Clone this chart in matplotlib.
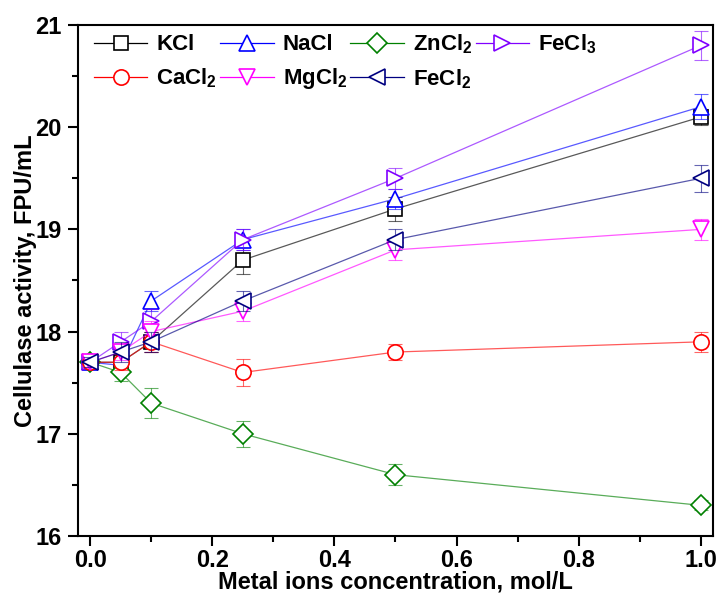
import matplotlib
matplotlib.use("Agg")
import matplotlib.pyplot as plt

plt.rcParams["font.family"] = ["Liberation Sans", "DejaVu Sans"]
plt.rcParams["font.weight"] = "bold"
plt.rcParams["mathtext.fontset"] = "custom"
plt.rcParams["mathtext.rm"] = "Liberation Sans:bold"
plt.rcParams["mathtext.bf"] = "Liberation Sans:bold"

conc = [0.0, 0.05, 0.1, 0.25, 0.5, 1.0]

kcl = [17.7, 17.7, 17.9, 18.7, 19.2, 20.1]
nacl = [17.7, 17.67, 18.3, 18.9, 19.3, 20.2]
zncl2 = [17.7, 17.6, 17.3, 17.0, 16.6, 16.3]
fecl3 = [17.7, 17.9, 18.1, 18.9, 19.5, 20.8]
cacl2 = [17.7, 17.7, 17.9, 17.6, 17.8, 17.9]
mgcl2 = [17.7, 17.8, 18.0, 18.2, 18.8, 19.0]
fecl2 = [17.7, 17.8, 17.9, 18.3, 18.9, 19.5]

kcl_err = [0.05, 0.08, 0.1, 0.14, 0.12, 0.08]
nacl_err = [0.05, 0.08, 0.1, 0.1, 0.1, 0.12]
zncl2_err = [0.05, 0.08, 0.15, 0.13, 0.1, 0.05]
fecl3_err = [0.05, 0.1, 0.12, 0.1, 0.1, 0.14]
cacl2_err = [0.05, 0.08, 0.1, 0.13, 0.08, 0.1]
mgcl2_err = [0.05, 0.08, 0.1, 0.1, 0.1, 0.1]
fecl2_err = [0.05, 0.1, 0.1, 0.1, 0.1, 0.13]

series = [
    ("KCl", kcl, kcl_err, "#000000", "s"),
    ("NaCl", nacl, nacl_err, "#0000ff", "^"),
    ("ZnCl$_2$", zncl2, zncl2_err, "#008000", "D"),
    ("FeCl$_3$", fecl3, fecl3_err, "#8000ff", ">"),
    ("CaCl$_2$", cacl2, cacl2_err, "#ff0000", "o"),
    ("MgCl$_2$", mgcl2, mgcl2_err, "#ff00ff", "v"),
    ("FeCl$_2$", fecl2, fecl2_err, "#000080", "<"),
]
# legend fills column by column, so reorder to read row by row
legend_order = [0, 4, 1, 5, 2, 6, 3]

fig = plt.figure(figsize=(7.19, 5.96), dpi=100)
ax = fig.add_axes([78 / 719, 60 / 596, 635 / 719, 511 / 596])

sizes = {"s": 10, "^": 12, "D": 10, ">": 12, "o": 11, "v": 12, "<": 12}
handles = []
for name, vals, err, color, marker in series:
    ax.errorbar(conc, vals, yerr=err, fmt="none", ecolor=color, elinewidth=0.8,
                capsize=5, capthick=0.8, alpha=0.6)
    ax.plot(conc, vals, color=color, lw=0.9, alpha=0.65)
    ax.plot(conc, vals, ls="none", marker=marker, ms=sizes[marker],
            mfc="white", mec=color, mew=1.2)
    h, = ax.plot([], [], color=color, lw=0.9, marker=marker, ms=sizes[marker],
                 mfc="white", mec=color, mew=1.2, label=name)
    handles.append(h)

ax.set_xlim(-0.02, 1.02)
ax.set_ylim(16, 21)
ax.set_xticks([0.0, 0.2, 0.4, 0.6, 0.8, 1.0])
ax.set_xticks([0.1, 0.3, 0.5, 0.7, 0.9], minor=True)
ax.set_yticks([16, 17, 18, 19, 20, 21])
ax.set_yticks([16.5, 17.5, 18.5, 19.5, 20.5], minor=True)
ax.set_xticklabels(["0.0", "0.2", "0.4", "0.6", "0.8", "1.0"])
ax.tick_params(which="major", direction="out", length=7.2, width=1.5, labelsize=17)
ax.tick_params(which="minor", direction="out", length=4.3, width=1.5)
ax.tick_params(axis="x", which="major", pad=2)
ax.tick_params(axis="y", which="major", pad=4.5)
for s in ax.spines.values():
    s.set_linewidth(1.5)

ax.set_xlabel("Metal ions concentration, mol/L", fontsize=17, fontweight="bold", labelpad=-1)
ax.set_ylabel("Cellulase activity, FPU/mL", fontsize=17, fontweight="bold", labelpad=-1)

ax.legend(handles=[handles[i] for i in legend_order], ncol=4, loc="upper left",
          frameon=False, fontsize=16, bbox_to_anchor=(0.011, 1.003), borderaxespad=0.0,
          handlelength=2.4, handletextpad=0.4, columnspacing=0.15, labelspacing=0.5)

fig.savefig("out.png", dpi=100)
